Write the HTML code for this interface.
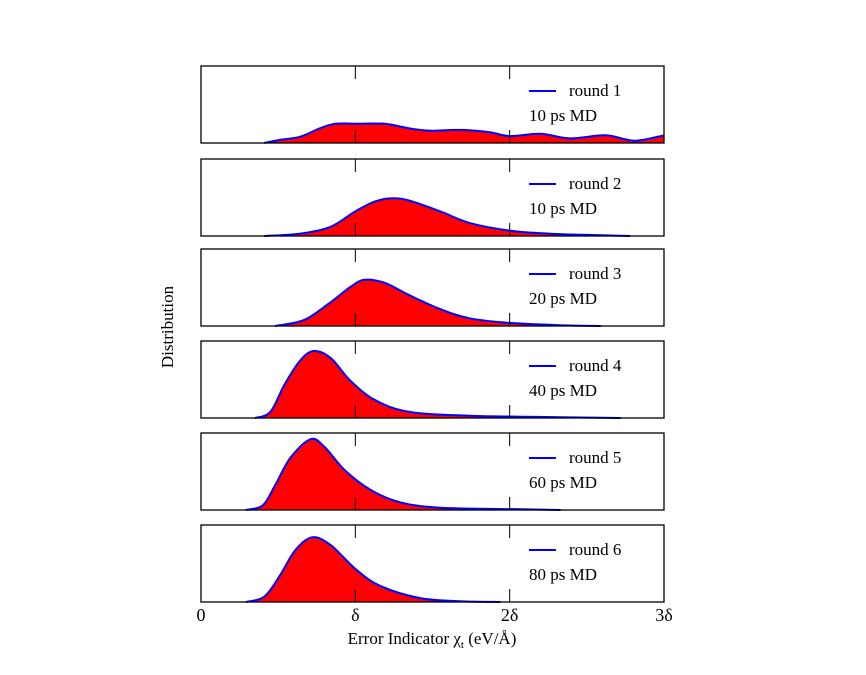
<!DOCTYPE html>
<html><head><meta charset="utf-8"><style>
body{margin:0;background:#fff}
text{font-family:"Liberation Serif",serif;fill:#000}
</style></head><body>
<svg id="c" width="866" height="670" xmlns="http://www.w3.org/2000/svg"></svg>
<script>
const rounds=["round 1","round 2","round 3","round 4","round 5","round 6"];
const mdTimes=["10 ps MD","10 ps MD","20 ps MD","40 ps MD","60 ps MD","80 ps MD"];
const xTicks=[0,1,2,3];
const xTickLabels=["0","δ","2δ","3δ"];
const s1x=[0.41,0.51,0.64,0.77,0.87,1.0,1.19,1.35,1.48,1.68,1.87,2.0,2.2,2.39,2.62,2.81,3.0];
const s1y=[0,0.04,0.08,0.19,0.25,0.25,0.25,0.19,0.16,0.17,0.14,0.09,0.12,0.06,0.10,0.03,0.10];
const s2x=[0.41,0.64,0.84,1.0,1.13,1.24,1.35,1.55,1.74,2.0,2.26,2.59,2.78];
const s2y=[0,0.03,0.12,0.32,0.45,0.49,0.46,0.32,0.17,0.07,0.03,0.01,0];
const s3x=[0.48,0.67,0.84,0.97,1.06,1.19,1.35,1.55,1.74,2.0,2.33,2.59];
const s3y=[0,0.08,0.31,0.51,0.60,0.56,0.40,0.22,0.10,0.04,0.01,0];
const s4x=[0.35,0.45,0.54,0.64,0.73,0.84,0.97,1.13,1.35,1.74,2.33,2.72];
const s4y=[0,0.08,0.43,0.74,0.87,0.78,0.48,0.23,0.08,0.03,0.01,0];
const s5x=[0.29,0.40,0.48,0.58,0.71,0.80,0.93,1.10,1.29,1.55,2.07,2.33];
const s5y=[0,0.06,0.32,0.68,0.92,0.82,0.52,0.26,0.10,0.03,0.01,0];
const s6x=[0.29,0.41,0.51,0.61,0.72,0.84,1.0,1.16,1.42,1.68,1.94];
const s6y=[0,0.07,0.34,0.67,0.84,0.74,0.43,0.21,0.05,0.01,0];
const seriesX=[s1x,s2x,s3x,s4x,s5x,s6x];
const seriesY=[s1y,s2y,s3y,s4y,s5y,s6y];

const NS="http://www.w3.org/2000/svg";
const svg=document.getElementById('c');
const L=201,R=664;
const tops=[66,159,249,341,433,525];
const PH=77;
const xs=v=>L+(R-L)*v/3;
function el(t,a,txt){const e=document.createElementNS(NS,t);for(const k in a)e.setAttribute(k,a[k]);if(txt!==undefined)e.textContent=txt;svg.appendChild(e);return e;}
function smooth(pts){let d=`M${pts[0][0]},${pts[0][1]}`;
 for(let i=0;i<pts.length-1;i++){const p0=pts[Math.max(0,i-1)],p1=pts[i],p2=pts[i+1],p3=pts[Math.min(pts.length-1,i+2)];
  const c1=[p1[0]+(p2[0]-p0[0])/6,p1[1]+(p2[1]-p0[1])/6],c2=[p2[0]-(p3[0]-p1[0])/6,p2[1]-(p3[1]-p1[1])/6];
  d+=` C${c1[0]},${c1[1]} ${c2[0]},${c2[1]} ${p2[0]},${p2[1]}`;}
 return d;}
for(let i=0;i<6;i++){
 const top=tops[i],bot=top+PH;
 const ys=v=>bot-v*PH;
 const pts=seriesX[i].map((x,j)=>[xs(x),ys(seriesY[i][j])]);
 const line=smooth(pts);
 let a=el('path',{d:line+` L${pts[pts.length-1][0]},${bot} L${pts[0][0]},${bot} Z`,fill:'#ff0000',stroke:'none'});
 
 
 let ln=el('path',{d:line,fill:'none',stroke:'#0000ff','stroke-width':2});
 
 
 for(const t of [1,2]){
  el('line',{x1:xs(t),x2:xs(t),y1:top,y2:top+13,stroke:'#000','stroke-width':1});
  el('line',{x1:xs(t),x2:xs(t),y1:bot,y2:bot-13,stroke:'#000','stroke-width':1});
 }
 let fr=el('rect',{x:L,y:top,width:R-L,height:PH,fill:'none',stroke:'#000','stroke-width':1.3});
 
 
 let lg=el('line',{x1:529,x2:556,y1:top+25,y2:top+25,stroke:'#0000ff','stroke-width':2});
 
 
 let lt=el('text',{x:569,y:top+30,'font-size':17},rounds[i]);
 
 
 let mt=el('text',{x:529,y:top+55,'font-size':17},mdTimes[i]);
 
 
}
xTicks.forEach((t,k)=>{
 let tl=el('text',{x:xs(t),y:621,'font-size':18,'text-anchor':'middle'},xTickLabels[k]);
 
 
});
let xt=el('text',{x:432,y:644,'font-size':17,'text-anchor':'middle'});
xt.innerHTML='Error Indicator χ<tspan font-size="11" dy="4">t</tspan><tspan dy="-4"> (eV/Å)</tspan>';


let yt=el('text',{x:0,y:0,'font-size':17,'text-anchor':'middle',transform:'translate(173,327) rotate(-90)'},'Distribution');


</script>
</body></html>
